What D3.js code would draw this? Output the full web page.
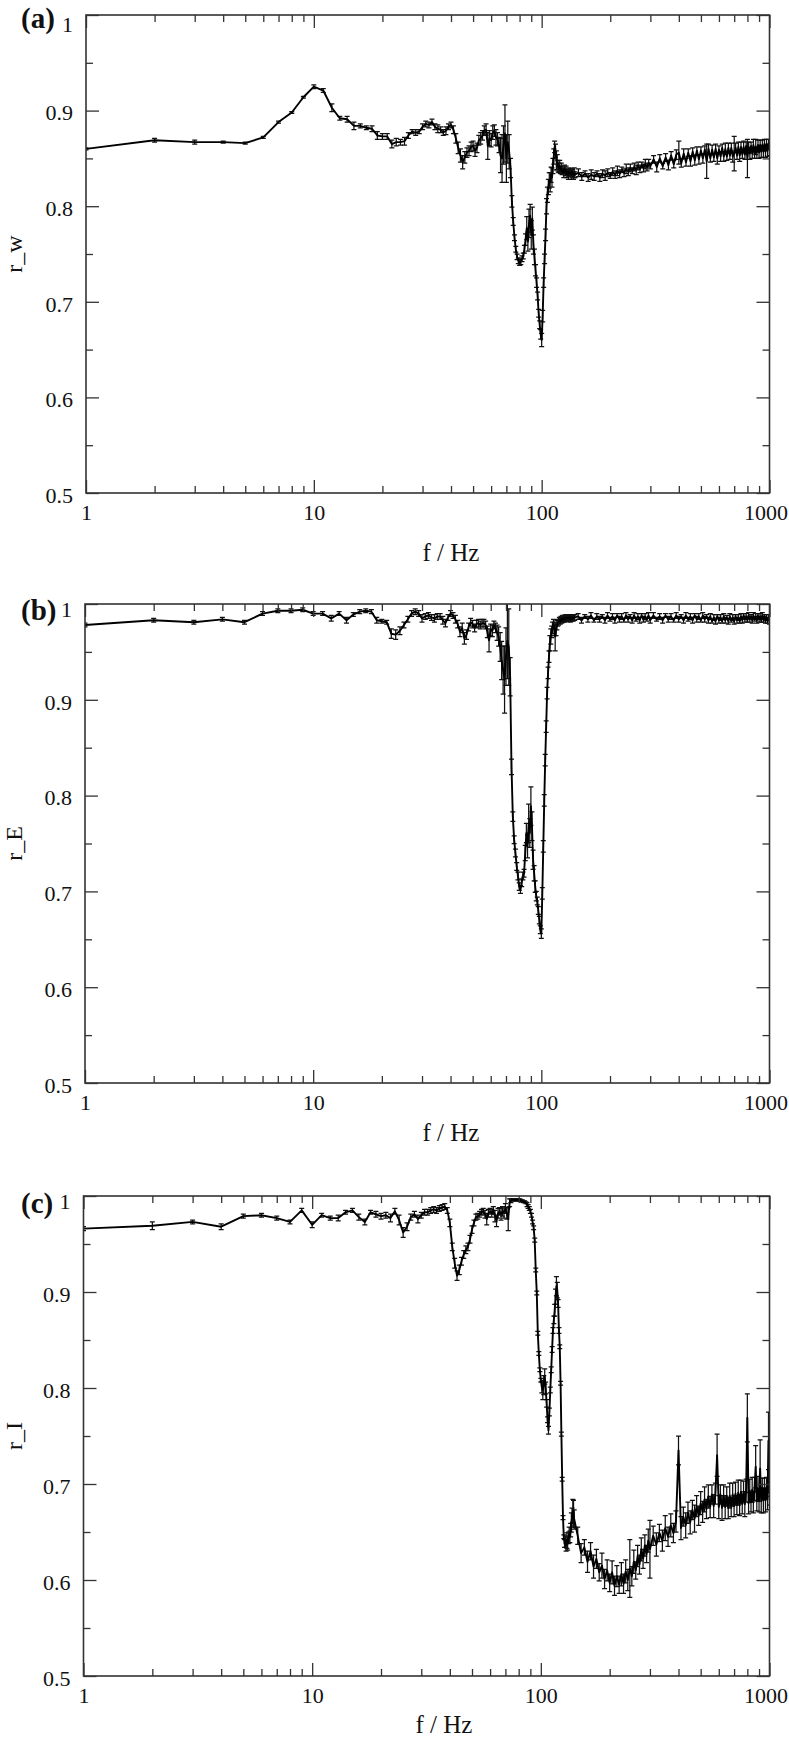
<!DOCTYPE html>
<html>
<head>
<meta charset="UTF-8">
<title></title>
<style>
  body { margin: 0; background: #fff; }
  svg text { font-family: "Liberation Serif", "Times New Roman", serif; }
</style>
</head>
<body>
<div id="chart"></div>
<script src="https://d3js.org/d3.v7.min.js"></script>
<script>
// frequencies in Hz, shared by the three panels
var freq = [1,2,3,4,5,6,7,8,9,10,11,12,13,14,15,16,17,18,19,20,
  21,22,23,24,25,26,27,28,29,30,31,32,33,34,35,36,37,38,39,40,
  41,42,43,44,45,46,47,48,49,50,51,52,53,54,55,56,57,58,59,60,
  61,62,63,64,65,66,67,68,69,70,71,72,73,74,75,76,77,78,79,80,
  81,82,83,84,85,86,87,88,89,90,91,92,93,94,95,96,97,98,99,100,
  101,102,103,104,105,106,107,108,109,110,111,112,113,114,115,116,117,118,119,120,
  121,122,123,124,125,126,127,128,129,130,131,132,133,134,135,136,137,138,139,140,
  145,150,155,160,165,170,175,180,185,190,195,200,205,210,215,220,225,230,235,240,
  245,250,255,260,265,270,275,280,285,290,295,300,
  310,320,330,340,350,360,370,380,390,400,410,420,430,440,450,460,470,480,490,500,
  510,520,530,540,550,560,570,580,590,600,610,620,630,640,650,660,670,680,690,700,
  710,720,730,740,750,760,770,780,790,800,810,820,830,840,850,860,870,880,890,900,
  910,920,930,940,950,960,970,980,990,1000];

// (a) r_w, values and error half widths in units of 0.001
var rW = [860,869,867,867,866,872,888,898,914,925,921,903,892,891,884,884,882,881,874,873,
  873,865,867,867,868,874,878,877,878,883,886,885,888,883,881,880,877,879,883,885,
  880,871,861,853,846,851,856,858,862,863,858,861,869,871,874,879,880,863,871,869,
  877,879,872,870,864,853,850,864,876,850,867,857,840,805,784,767,755,747,743,741,
  742,745,748,755,765,777,763,782,790,770,787,760,747,733,720,706,688,676,666,660,
  685,720,745,770,800,812,820,827,825,833,830,842,852,862,858,848,846,842,840,842,
  838,840,836,838,835,839,835,837,834,836,833,836,834,835,833,836,834,832,835,833,
  835,831,834,830,833,831,834,830,834,832,835,832,836,833,837,834,838,835,839,836,
  840,837,841,838,842,839,843,840,844,841,845,842,
  849,841,850,842,851,843,853,844,854,856,845,855,846,856,847,857,848,858,849,858,
  850,859,847,860,850,859,851,860,850,859,852,861,852,860,852,861,853,861,852,855,
  861,853,862,853,862,854,862,854,863,850,862,855,863,855,864,855,862,856,864,856,
  864,857,864,857,865,857,865,858,865,859];
var errW = [1,2,2,1,1,1,1,1,1,2,2,4,2,3,4,2,2,3,4,3,
  3,4,4,3,4,3,2,3,2,3,3,3,3,3,4,3,3,4,3,3,
  4,5,6,7,7,6,5,5,5,5,6,5,5,6,5,5,6,14,8,7,
  7,6,8,7,8,18,25,20,30,25,22,18,10,6,4,3,3,3,3,3,
  3,3,3,4,6,12,10,15,12,15,12,10,8,6,5,4,4,4,5,7,
  6,5,5,6,8,8,8,8,10,8,10,8,8,6,7,10,8,6,5,6,
  4,5,3,4,5,4,3,5,4,3,5,4,3,4,5,3,4,4,5,3,
  4,4,3,4,5,4,3,4,4,5,4,3,4,4,5,4,3,4,5,4,
  4,3,4,5,4,4,3,4,5,4,4,3,
  4,5,4,3,4,5,4,4,5,12,4,5,4,4,5,4,5,4,5,4,
  5,4,18,5,4,5,4,5,6,4,5,4,5,6,4,5,4,5,6,18,
  5,4,5,6,5,4,6,5,4,20,5,6,4,5,6,5,8,6,5,6,
  5,6,5,6,5,6,5,6,5,6];

// (b) r_E
var rE = [978,983,981,984,981,990,993,993,994,990,990,985,990,983,989,992,993,992,983,982,
  981,969,968,972,978,984,990,992,990,985,987,988,986,985,987,987,983,980,986,990,
  988,984,979,971,975,964,968,976,981,979,975,979,980,978,980,980,978,971,962,973,
  972,978,975,970,966,955,941,931,921,945,962,955,924,830,778,754,740,726,716,705,
  702,709,716,719,740,761,747,771,761,789,768,733,719,705,695,690,680,670,660,656,
  698,747,795,837,872,907,928,945,959,966,971,975,979,973,966,973,978,980,981,983,
  982,984,983,985,984,985,984,986,985,985,986,985,986,984,986,985,986,985,986,986,
  987,983,987,984,988,983,987,984,987,983,988,984,987,983,988,984,987,983,988,984,
  987,983,988,984,987,983,988,984,987,984,988,983,
  988,984,987,983,988,984,987,983,988,984,987,983,988,984,987,983,988,984,987,983,
  988,984,987,983,987,982,986,982,987,983,986,982,987,983,986,982,987,983,986,982,
  987,983,986,982,987,983,988,984,987,983,988,984,987,983,988,984,987,983,988,984,
  987,983,988,984,987,983,986,982,986,982];
var errE = [2,2,2,2,2,2,2,2,2,2,2,3,2,3,2,2,2,2,3,2,
  2,5,5,4,3,3,3,3,3,4,3,3,3,4,3,3,4,4,3,3,
  3,4,4,5,5,6,5,4,4,4,4,4,4,4,4,4,4,6,12,6,
  6,4,5,8,10,15,20,25,35,30,40,40,20,8,5,4,4,4,4,4,
  4,4,4,4,8,10,12,20,15,20,15,10,8,6,5,4,4,4,4,5,
  6,6,6,6,6,6,6,6,8,8,6,6,5,6,15,6,5,3,3,3,
  3,3,3,3,3,3,3,3,3,3,3,3,3,3,3,3,3,3,3,3,
  3,3,2,3,3,2,3,3,2,3,3,2,3,3,2,3,3,2,3,3,
  2,3,3,2,3,3,2,3,3,2,3,3,
  3,2,3,3,2,3,3,2,3,3,2,3,3,2,3,3,2,3,3,2,
  3,3,2,3,3,2,3,3,2,3,3,2,3,3,2,3,3,2,3,3,
  2,3,3,2,3,3,2,3,3,2,3,3,2,3,3,2,3,3,2,3,
  3,2,3,3,2,3,3,2,3,3];

// (c) r_I
var rI = [966,969,973,968,979,980,977,973,985,970,980,977,977,983,985,978,973,983,981,979,
  980,977,984,975,962,968,978,981,976,980,983,983,985,986,985,987,988,989,985,972,
  947,930,917,923,932,939,944,947,955,965,972,978,979,981,983,984,981,976,982,984,
  982,985,979,974,982,984,981,984,983,987,982,976,993,995,996,996,996,996,996,996,
  996,995,995,994,994,993,991,989,987,984,980,973,967,954,923,899,857,836,819,808,
  801,798,803,812,800,784,767,756,775,798,819,840,860,871,881,895,906,902,888,860,
  843,805,752,705,665,645,638,640,636,641,638,644,647,645,652,660,665,672,669,663,
  646,628,634,619,630,614,622,608,615,601,610,597,608,594,604,595,606,596,609,600,
  612,604,619,610,625,616,632,622,636,627,641,632,
  646,637,649,641,654,645,657,649,661,735,654,666,657,670,660,673,664,677,667,680,
  671,684,674,687,676,689,677,690,730,676,689,675,688,676,687,675,688,676,689,677,
  690,678,691,678,692,679,692,679,693,769,680,693,681,694,681,695,718,682,695,682,
  716,682,696,683,695,683,697,684,745,690];
var errI = [2,4,2,3,2,2,2,2,2,3,2,2,3,2,2,3,3,2,3,3,
  3,4,3,5,5,4,3,3,4,3,3,3,3,3,3,3,3,3,3,4,
  4,5,5,5,4,4,4,4,4,4,3,3,3,3,3,3,4,6,4,3,
  4,4,6,6,5,4,6,5,6,5,6,12,4,2,1,1,1,1,1,1,
  1,1,1,1,1,1,2,2,2,2,2,2,2,2,2,2,2,2,2,2,
  6,10,10,8,6,4,3,4,4,3,3,3,3,4,6,8,10,8,4,3,
  2,2,2,2,2,2,4,6,6,8,7,6,8,6,7,10,10,12,14,10,
  9,10,8,11,9,12,10,9,13,10,11,9,12,10,11,9,12,10,12,11,
  30,10,12,9,11,10,12,10,11,9,12,30,
  10,12,9,11,13,10,12,10,11,15,12,10,13,11,12,10,14,11,10,12,
  11,13,10,12,11,10,12,11,22,12,10,13,11,12,10,11,13,10,12,11,
  12,10,13,11,12,10,11,13,12,25,11,12,10,13,11,12,22,10,13,11,
  30,12,10,13,11,12,10,11,30,12];

var panels = [
  { letter: "(a)", ylab: "r_w", vals: rW, errs: errW,
    left: 86, right: 769.5, top: 15, bottom: 493,
    letterY: 28, topLabelDy: 9, xTitleX: 451, xTitleY: 561 },
  { letter: "(b)", ylab: "r_E", vals: rE, errs: errE,
    left: 85, right: 769.5, top: 604, bottom: 1083,
    letterY: 620, topLabelDy: 5, xTitleX: 451, xTitleY: 1141 },
  { letter: "(c)", ylab: "r_I", vals: rI, errs: errI,
    left: 83.5, right: 769.5, top: 1196, bottom: 1676,
    letterY: 1213, topLabelDy: 5, xTitleX: 444, xTitleY: 1733 }
];

var majorX = [1, 10, 100, 1000];
var minorX = [2,3,4,5,6,7,8,9,20,30,40,50,60,70,80,90,200,300,400,500,600,700,800,900];
var majorY = [0.5, 0.6, 0.7, 0.8, 0.9, 1];
var minorY = [0.55, 0.65, 0.75, 0.85, 0.95];

var width = 789, height = 1740;
var axisColor = "#333";

var svg = d3.select("#chart")
  .append("svg")
  .attr("width", width)
  .attr("height", height);

function styleAxis(sel) {
  sel.select(".domain").remove();
  sel.attr("font-family", null).attr("font-size", 22);
  sel.selectAll(".tick line").attr("stroke", axisColor).attr("stroke-width", 1.3);
  sel.selectAll(".tick text").attr("fill", "#111");
}

panels.forEach(function(p, k) {
  var x = d3.scaleLog().domain([1, 1000]).range([p.left, p.right]);
  var y = d3.scaleLinear().domain([0.5, 1]).range([p.bottom, p.top]);

  var g = svg.append("g");

  g.append("clipPath").attr("id", "clip" + k)
    .append("rect")
    .attr("x", p.left).attr("y", p.top)
    .attr("width", p.right - p.left).attr("height", p.bottom - p.top);

  var pts = freq.map(function(f, i) {
    return { f: f, r: p.vals[i] / 1000, e: p.errs[i] / 1000 };
  });

  var plot = g.append("g").attr("clip-path", "url(#clip" + k + ")");

  // error bars
  plot.selectAll(".err")
    .data(pts)
    .join("path")
    .attr("class", "err")
    .attr("d", function(d) {
      var xx = x(d.f), y0 = y(d.r - d.e), y1 = y(d.r + d.e);
      return "M" + xx + "," + y0 + "V" + y1 +
        "M" + (xx - 2.5) + "," + y0 + "h5" +
        "M" + (xx - 2.5) + "," + y1 + "h5";
    })
    .attr("fill", "none")
    .attr("stroke", "#111")
    .attr("stroke-width", 1.25);

  // data line
  var line = d3.line()
    .x(function(d) { return x(d.f); })
    .y(function(d) { return y(d.r); });

  plot.append("path")
    .datum(pts)
    .attr("d", line)
    .attr("fill", "none")
    .attr("stroke", "#000")
    .attr("stroke-width", 1.9)
    .attr("stroke-linejoin", "round");

  // axes, ticks pointing inward on all four sides
  var bottomAxis = g.append("g").attr("transform", "translate(0," + p.bottom + ")")
    .call(d3.axisBottom(x).tickValues(majorX).tickSize(-13).tickSizeOuter(0)
      .tickPadding(11).tickFormat(d3.format("d")))
    .call(styleAxis);
  // keep the last label inside the page, as in the original
  bottomAxis.selectAll(".tick text")
    .filter(function(d) { return d === 1000; })
    .attr("text-anchor", "end")
    .attr("dx", 18);

  g.append("g").attr("transform", "translate(0," + p.bottom + ")")
    .call(d3.axisBottom(x).tickValues(minorX).tickSize(-7).tickSizeOuter(0).tickFormat(""))
    .call(styleAxis);
  g.append("g").attr("transform", "translate(0," + p.top + ")")
    .call(d3.axisTop(x).tickValues(majorX).tickSize(-13).tickSizeOuter(0).tickFormat(""))
    .call(styleAxis);
  g.append("g").attr("transform", "translate(0," + p.top + ")")
    .call(d3.axisTop(x).tickValues(minorX).tickSize(-7).tickSizeOuter(0).tickFormat(""))
    .call(styleAxis);

  g.append("g").attr("transform", "translate(" + p.left + ",0)")
    .call(d3.axisLeft(y).tickValues(majorY).tickSize(-13).tickSizeOuter(0).tickPadding(13)
      .tickFormat(function(d) { return d === 1 ? "1" : d3.format(".1f")(d); }))
    .call(styleAxis)
    .selectAll(".tick text")
    .attr("dy", function(d) { return d === 1 ? (p.topLabelDy + 7) + "px" : "0.42em"; });
  g.append("g").attr("transform", "translate(" + p.left + ",0)")
    .call(d3.axisLeft(y).tickValues(minorY).tickSize(-7).tickSizeOuter(0).tickFormat(""))
    .call(styleAxis);
  g.append("g").attr("transform", "translate(" + p.right + ",0)")
    .call(d3.axisRight(y).tickValues(majorY).tickSize(-13).tickSizeOuter(0).tickFormat(""))
    .call(styleAxis);
  g.append("g").attr("transform", "translate(" + p.right + ",0)")
    .call(d3.axisRight(y).tickValues(minorY).tickSize(-7).tickSizeOuter(0).tickFormat(""))
    .call(styleAxis);

  // frame
  g.append("rect")
    .attr("x", p.left).attr("y", p.top)
    .attr("width", p.right - p.left).attr("height", p.bottom - p.top)
    .attr("fill", "none")
    .attr("stroke", axisColor)
    .attr("stroke-width", 1.6);

  // panel letter
  g.append("text")
    .attr("x", 21).attr("y", p.letterY)
    .attr("font-size", 29)
    .attr("font-weight", "bold")
    .attr("fill", "#111")
    .text(p.letter);

  // axis titles
  g.append("text")
    .attr("x", p.xTitleX).attr("y", p.xTitleY)
    .attr("text-anchor", "middle")
    .attr("font-size", 25)
    .attr("fill", "#111")
    .text("f / Hz");

  g.append("text")
    .attr("transform", "translate(22," + ((p.top + p.bottom) / 2) + ") rotate(-90)")
    .attr("text-anchor", "middle")
    .attr("font-size", 24)
    .attr("fill", "#111")
    .text(p.ylab);
});
</script>
</body>
</html>
